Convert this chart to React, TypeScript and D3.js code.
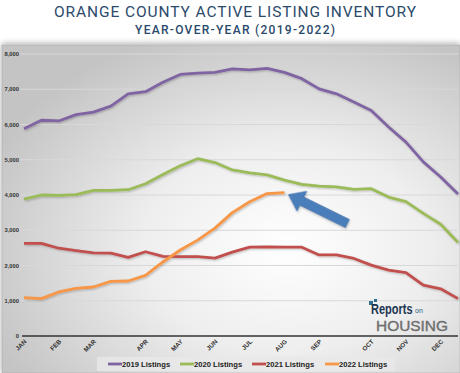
import React from 'react';
import * as d3 from 'd3';

// biweekly readings, Jan -> Dec (26 points)
const listings2019 = [5880, 6120, 6100, 6280, 6350, 6520, 6870, 6930, 7200, 7420, 7460, 7480, 7580, 7550, 7590, 7480, 7300, 7010, 6870, 6640, 6400, 5930, 5500, 4940, 4510, 4030];
const listings2020 = [3880, 4000, 3990, 4010, 4130, 4130, 4150, 4320, 4580, 4830, 5030, 4920, 4710, 4630, 4570, 4420, 4300, 4250, 4230, 4160, 4180, 3940, 3810, 3480, 3170, 2650];
const listings2021 = [2630, 2630, 2490, 2420, 2360, 2350, 2230, 2390, 2260, 2250, 2250, 2210, 2380, 2520, 2530, 2520, 2520, 2300, 2300, 2200, 2010, 1870, 1800, 1440, 1340, 1060];
const listings2022 = [1090, 1060, 1250, 1350, 1390, 1550, 1560, 1720, 2100, 2440, 2720, 3060, 3500, 3810, 4040, 4070];

const monthLabels = ['JAN', 'FEB', 'MAR', 'APR', 'MAY', 'JUN', 'JUL', 'AUG', 'SEP', 'OCT', 'NOV', 'DEC'];
const monthTickIndex = [0, 2, 4, 7, 9, 11, 13, 15, 17, 20, 22, 24];
const yTicks = [0, 1000, 2000, 3000, 4000, 5000, 6000, 7000, 8000];

const seriesNames = ['2019 Listings', '2020 Listings', '2021 Listings', '2022 Listings'];
const seriesColors = ['#8064a2', '#9bbb59', '#c0504d', '#f79646'];

const W = 460;
const H = 373;

const App = () => {
  const series = [listings2019, listings2020, listings2021, listings2022];
  const x = d3.scaleLinear().domain([0, 25]).range([24, 458]);
  const y = d3.scaleLinear().domain([0, 8000]).range([336, 54]);
  const line = d3.line<number>().x((_, i) => x(i)).y(d => y(d));
  const fmt = d3.format(',');

  // block arrow pointing at end of the 2022 line
  const tip: [number, number] = [x(15) + 4, y(4070) + 2];
  const tail: [number, number] = [tip[0] + 59, tip[1] + 29];
  const ang = (Math.atan2(tail[1] - tip[1], tail[0] - tip[0]) * 180) / Math.PI;
  const len = Math.hypot(tail[0] - tip[0], tail[1] - tip[1]);

  const legendX = [108, 180, 252, 325];

  return (
    <div style={{ position: 'fixed', left: 0, top: 0 }}>
      <svg width={W} height={H} style={{ display: 'block' }}>
        <defs>
          <radialGradient id="bg" cx="0.62" cy="0.62" r="0.7">
            <stop offset="0" stopColor="#ffffff" />
            <stop offset="0.45" stopColor="#eeeeee" />
            <stop offset="1" stopColor="#c4c4c4" />
          </radialGradient>
          <filter id="sh" x="-5%" y="-10%" width="110%" height="120%">
            <feDropShadow dx="0" dy="-1" stdDeviation="3" floodColor="#000" floodOpacity="0.35" />
          </filter>
          <filter id="lsh" x="-5%" y="-10%" width="110%" height="120%">
            <feDropShadow dx="1" dy="1" stdDeviation="0.8" floodColor="#000" floodOpacity="0.25" />
          </filter>
        </defs>
        <rect width={W} height={H} fill="#fff" />

        <text x={235} y={17} textAnchor="middle" fontFamily="Roboto, 'Open Sans', sans-serif" fontSize={15.5}
          fontWeight={400} fill="#2b4a6b" textLength={362} lengthAdjust="spacing">
          ORANGE COUNTY ACTIVE LISTING INVENTORY
        </text>
        <text x={235} y={34} textAnchor="middle" fontFamily="Roboto, 'Open Sans', sans-serif" fontSize={12}
          fontWeight={500} fill="#2b4a6b" textLength={200} lengthAdjust="spacing">
          YEAR-OVER-YEAR (2019-2022)
        </text>

        <rect x={2} y={45} width={W - 2} height={H - 45} fill="url(#bg)" stroke="#aaa" strokeWidth={0.6} filter="url(#sh)" />

        {yTicks.map(t => (
          <g key={t}>
            {t > 0 && <line x1={20} x2={458} y1={y(t)} y2={y(t)} stroke="#d8d8d8" strokeWidth={1} />}
            <text x={19} y={y(t) + 2} textAnchor="end" fontFamily="'Liberation Sans', Arial, sans-serif"
              fontSize={5.8} fontWeight="bold" fill="#333">{fmt(t)}</text>
          </g>
        ))}
        <line x1={22} x2={458} y1={y(0)} y2={y(0)} stroke="#333" strokeWidth={1.5} />

        {monthTickIndex.map((idx, k) => (
          <text key={monthLabels[k]} transform={`translate(${x(idx) + 3},${y(0) + 6}) rotate(-45)`} textAnchor="end"
            fontFamily="'Liberation Sans', Arial, sans-serif" fontSize={6.3} fontWeight="bold" fill="#333">
            {monthLabels[k]}
          </text>
        ))}

        <g filter="url(#lsh)">
          {series.map((s, i) => (
            <path key={seriesNames[i]} d={line(s) || ''} fill="none" stroke={seriesColors[i]} strokeWidth={2.8}
              strokeLinejoin="round" />
          ))}
        </g>

        <g transform={`translate(${tip[0]},${tip[1]}) rotate(${ang})`} filter="url(#lsh)">
          <path d={`M0,0 L15,-11 L15,-4.5 L${len},-4.5 L${len},4.5 L15,4.5 L15,11 Z`} fill="#4a7ebb" stroke="#3b6aa3" strokeWidth={0.6} />
        </g>

        <g fontFamily="'Liberation Sans', Arial, sans-serif">
          <rect x={369} y={301} width={4} height={4} fill="#2f6f8f" />
          <rect x={374} y={299} width={3} height={3} fill="#2f6f8f" />
          <text transform="translate(371,314) scale(1,1.3)" fontSize={11} fontWeight="bold" fill="#1c3552">Reports</text>
          <text x={415} y={313} fontSize={7} fill="#2f5f80">on</text>
          <text x={376} y={331} fontSize={15} fill="#6f6f6f" stroke="#6f6f6f" strokeWidth={0.4} textLength={72} lengthAdjust="spacingAndGlyphs">HOUSING</text>
        </g>

        <rect x={97} y={357} width={298} height={14} fill="#e9e9e9" opacity={0.8} />
        {seriesNames.map((n, i) => (
          <g key={n} transform={`translate(${legendX[i]},364)`}>
            <line x1={0} x2={14} y1={0} y2={0} stroke={seriesColors[i]} strokeWidth={2.8} />
            <text x={14} y={3} fontFamily="'Liberation Sans', Arial, sans-serif" fontSize={7.6} fontWeight="bold" fill="#222">{n}</text>
          </g>
        ))}
      </svg>
    </div>
  );
};

export default App;
